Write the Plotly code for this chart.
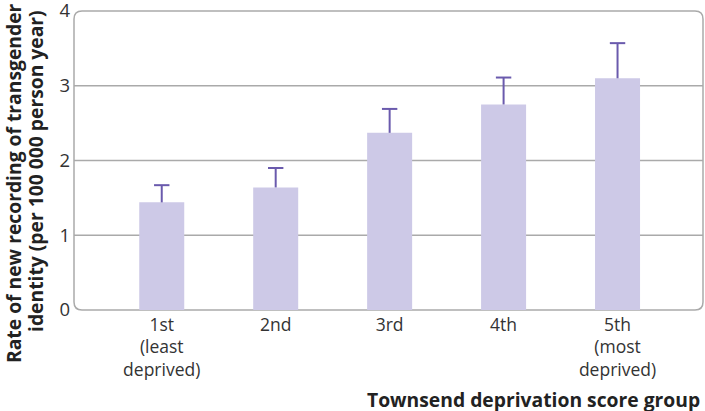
import plotly.graph_objects as go

categories = ["1st<br>(least<br>deprived)", "2nd", "3rd", "4th", "5th<br>(most<br>deprived)"]
rates = [1.44, 1.64, 2.37, 2.75, 3.10]
upper_ci = [1.67, 1.90, 2.69, 3.11, 3.57]
y_ticks = [0, 1, 2, 3, 4]
grid_vals = [1, 2, 3]

BAR = "#cdc9e7"
ERR = "#6a5aad"
FRAME = "#aaaaaa"
FONT = "Open Sans"

fig = go.Figure()
fig.add_trace(go.Bar(x=categories, y=rates, width=0.395,
                     marker=dict(color=BAR, line=dict(width=0)),
                     hoverinfo="skip"))

ex, ey = [], []
for c, v, u in zip(categories, rates, upper_ci):
    ex += [c, c, None]
    ey += [v, u, None]
fig.add_trace(go.Scatter(x=ex, y=ey, mode="lines",
                         line=dict(color=ERR, width=2), hoverinfo="skip"))
fig.add_trace(go.Scatter(x=categories, y=upper_ci, mode="markers",
                         marker=dict(symbol="line-ew", size=11,
                                     line=dict(color=ERR, width=2)),
                         hoverinfo="skip"))

W, H = 705, 411
ml, mr, mt, mb = 74, 2, 11, 101
pw, ph = W - ml - mr, H - mt - mb
r = 8
rx, ry = r / pw, r / ph
path = (f"M {rx},0 L {1-rx},0 Q 1,0 1,{ry} L 1,{1-ry} Q 1,1 {1-rx},1 "
        f"L {rx},1 Q 0,1 0,{1-ry} L 0,{ry} Q 0,0 {rx},0 Z")
shapes = [dict(type="path", path=path, xref="paper", yref="paper",
               line=dict(color=FRAME, width=1.5), layer="below")]
for g in grid_vals:
    shapes.append(dict(type="line", xref="paper", yref="y", x0=0, x1=1, y0=g, y1=g,
                       line=dict(color=FRAME, width=1.5), layer="below"))

TF = dict(family=FONT, size=19.3, color="#222")
annotations = [
    dict(text="<b>Townsend deprivation score group</b>", xref="paper", yref="paper",
         x=0.998, y=-(399 - (mt + ph)) / ph, xanchor="right", yanchor="middle",
         showarrow=False, font=TF),
    dict(text="<b>Rate of new recording of transgender</b>", xref="paper", yref="paper",
         x=-(74 - 13) / pw, y=(mt + ph - 183) / ph, xanchor="center", yanchor="middle",
         textangle=-90, showarrow=False, font=TF),
    dict(text="<b>identity (per 100 000 person year)</b>", xref="paper", yref="paper",
         x=-(74 - 35) / pw, y=(mt + ph - 171) / ph, xanchor="center", yanchor="middle",
         textangle=-90, showarrow=False, font=TF),
]

fig.update_layout(
    width=W, height=H, margin=dict(l=ml, r=mr, t=mt, b=mb, autoexpand=False),
    paper_bgcolor="white", plot_bgcolor="white", showlegend=False,
    shapes=shapes, annotations=annotations,
    xaxis=dict(range=[-0.77, 4.75], showgrid=False, zeroline=False, showline=False,
               ticks="", ticklabelstandoff=2, automargin=False,
               tickfont=dict(family=FONT, size=17.5, color="#333")),
    yaxis=dict(range=[0, 4], tickvals=y_ticks, showgrid=False, zeroline=False,
               showline=False, ticks="", ticklabelstandoff=3, ticklabeloverflow="allow",
               automargin=False,
               tickfont=dict(family=FONT, size=18.5, color="#333")),
)

fig.write_html("out.html", config={"displayModeBar": False},
               post_script="document.body.style.margin='0px';")
